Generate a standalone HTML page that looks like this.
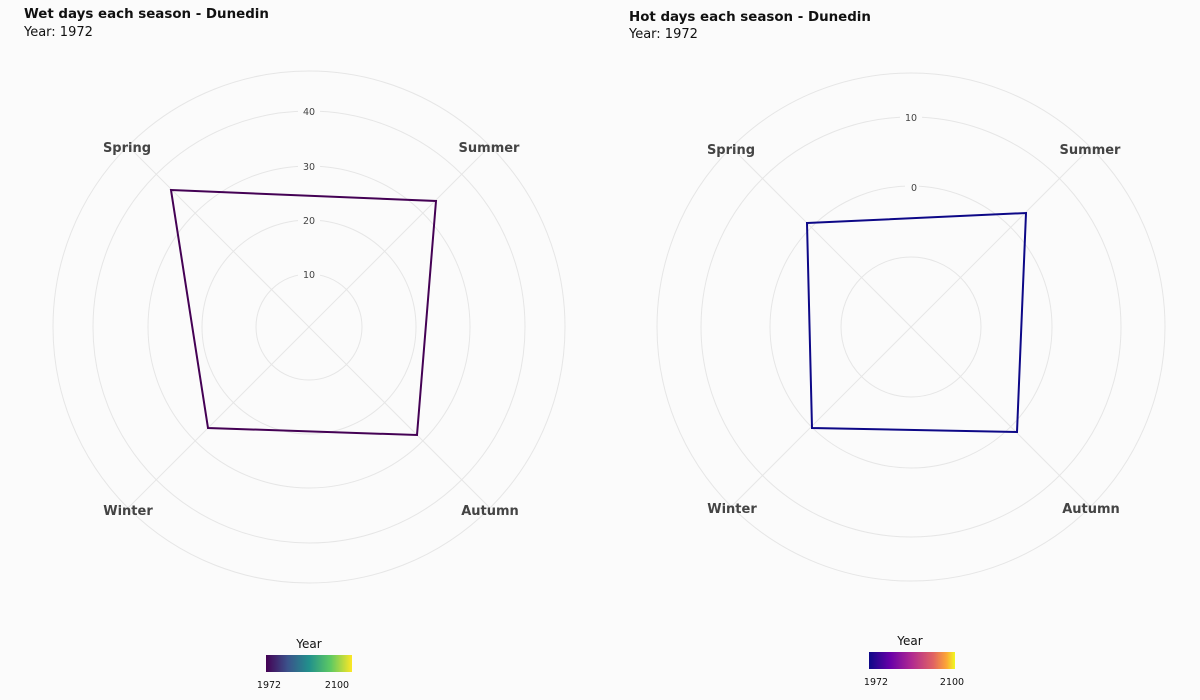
<!DOCTYPE html>
<html><head><meta charset="utf-8"><style>
body{margin:0;background:#fbfbfb;}
svg{display:block;font-family:"DejaVu Sans","Liberation Sans",sans-serif;}
</style></head><body>
<svg width="1200" height="700" viewBox="0 0 1200 700">
<defs>
<linearGradient id="vir" x1="0" x2="1"><stop offset="0" stop-color="#440154"/><stop offset="0.25" stop-color="#3b528b"/><stop offset="0.5" stop-color="#21908c"/><stop offset="0.75" stop-color="#5dc963"/><stop offset="1" stop-color="#fde725"/></linearGradient>
<linearGradient id="pla" x1="0" x2="1"><stop offset="0" stop-color="#0d0887"/><stop offset="0.25" stop-color="#6a00a8"/><stop offset="0.5" stop-color="#b12a90"/><stop offset="0.75" stop-color="#e16462"/><stop offset="0.9" stop-color="#fca636"/><stop offset="1" stop-color="#f0f921"/></linearGradient>
</defs>
<rect width="1200" height="700" fill="#fbfbfb"/>
<g font-weight="bold" font-size="13.4" fill="#111">
<text x="24" y="18">Wet days each season - Dunedin</text>
<text x="629" y="21">Hot days each season - Dunedin</text>
</g>
<g font-size="13" fill="#111">
<text x="24" y="36">Year: 1972</text>
<text x="629" y="38">Year: 1972</text>
</g>
<g fill="none" stroke="#e6e6e6" stroke-width="1">
<circle cx="309" cy="327" r="53"/><circle cx="309" cy="327" r="107"/><circle cx="309" cy="327" r="161"/><circle cx="309" cy="327" r="216"/><circle cx="309" cy="327" r="256"/>
<line x1="128" y1="146" x2="490" y2="508"/><line x1="490" y1="146" x2="128" y2="508"/>
<circle cx="911" cy="327" r="70"/><circle cx="911" cy="327" r="141"/><circle cx="911" cy="327" r="210"/><circle cx="911" cy="327" r="254"/>
<line x1="731" y1="147" x2="1091" y2="507"/><line x1="1091" y1="147" x2="731" y2="507"/>
</g>
<g font-size="9.5" fill="#444" text-anchor="middle">
<rect x="298" y="104" width="22" height="12" fill="#fbfbfb"/><text x="309" y="115">40</text>
<rect x="298" y="159" width="22" height="12" fill="#fbfbfb"/><text x="309" y="170">30</text>
<rect x="298" y="213" width="22" height="12" fill="#fbfbfb"/><text x="309" y="224">20</text>
<rect x="298" y="267" width="22" height="12" fill="#fbfbfb"/><text x="309" y="278">10</text>
<rect x="900" y="110" width="22" height="12" fill="#fbfbfb"/><text x="911" y="121">10</text>
<rect x="905" y="180" width="14" height="12" fill="#fbfbfb"/><text x="914" y="191">0</text>
</g>
<g font-size="13" font-weight="bold" fill="#444" text-anchor="middle">
<text x="127" y="152">Spring</text><text x="489" y="152">Summer</text>
<text x="128" y="515">Winter</text><text x="490" y="515">Autumn</text>
<text x="731" y="154">Spring</text><text x="1090" y="154">Summer</text>
<text x="732" y="513">Winter</text><text x="1091" y="513">Autumn</text>
</g>
<polygon points="171,190 436,201 417,435 208,428" fill="none" stroke="#440154" stroke-width="2"/>
<polygon points="807,223 1026,213 1017,432 812,428" fill="none" stroke="#0d0887" stroke-width="2"/>
<g font-size="12" fill="#111" text-anchor="middle">
<text x="309" y="648">Year</text><text x="910" y="645">Year</text>
</g>
<rect x="266" y="655" width="86" height="17" fill="url(#vir)"/>
<rect x="869" y="652" width="86" height="17" fill="url(#pla)"/>
<g font-size="9.5" fill="#111" text-anchor="middle">
<text x="269" y="688">1972</text><text x="337" y="688">2100</text>
<text x="876" y="685">1972</text><text x="952" y="685">2100</text>
</g>
</svg>
</body></html>
